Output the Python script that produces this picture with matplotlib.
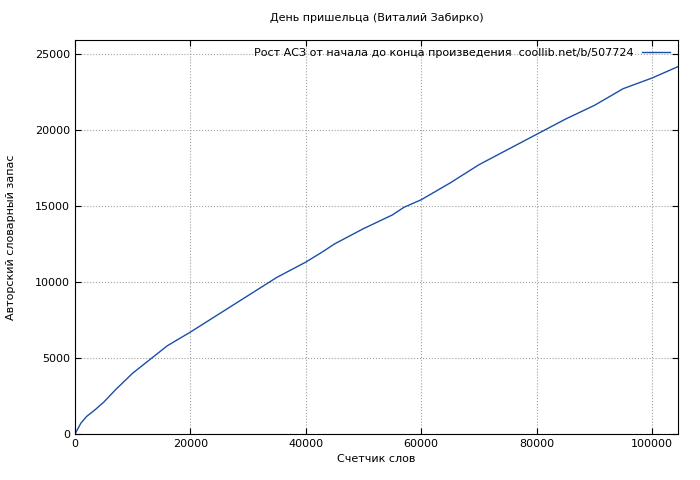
import matplotlib
matplotlib.use("Agg")
import matplotlib.pyplot as plt

# word counter vs author vocabulary
words = [0, 1000, 2000, 3500, 5000, 7000, 10000, 13000, 16000, 20000, 25000, 30000,
         35000, 38000, 40000, 43000, 45000, 48000, 50000, 55000, 57000, 60000, 65000,
         70000, 75000, 80000, 85000, 90000, 95000, 100000, 104500]
vocab = [0, 700, 1150, 1600, 2100, 2900, 4000, 4900, 5800, 6700, 7900, 9100,
         10300, 10900, 11300, 12000, 12500, 13100, 13500, 14400, 14900, 15400, 16500,
         17700, 18700, 19700, 20700, 21600, 22700, 23400, 24150]

fig = plt.figure(figsize=(7, 4.8), dpi=100)
ax = fig.add_axes([75/700, 1-434/480, 603/700, 394/480])
ax.plot(words, vocab, color="#1a4fa8", lw=1,
        label="Рост АСЗ от начала до конца произведения  coollib.net/b/507724")
ax.set_xlim(0, 104500)
ax.set_ylim(0, 25900)
ax.set_xticks(range(0, 100001, 20000))
ax.set_yticks(range(0, 25001, 5000))
ax.tick_params(labelsize=8, direction="in", length=4, top=True, right=True)
ax.grid(True, color="#a0a0a0", ls=":", lw=0.8)
ax.set_title("День пришельца (Виталий Забирко)", fontsize=8, pad=14)
ax.set_xlabel("Счетчик слов", fontsize=8)
ax.set_ylabel("Авторский словарный запас", fontsize=8, labelpad=14)
leg = ax.legend(loc="upper right", frameon=False, markerfirst=False, fontsize=8,
                handlelength=2.5, borderaxespad=0.3)
for s in ax.spines.values():
    s.set_linewidth(0.8)
fig.savefig("out.png", dpi=100)
